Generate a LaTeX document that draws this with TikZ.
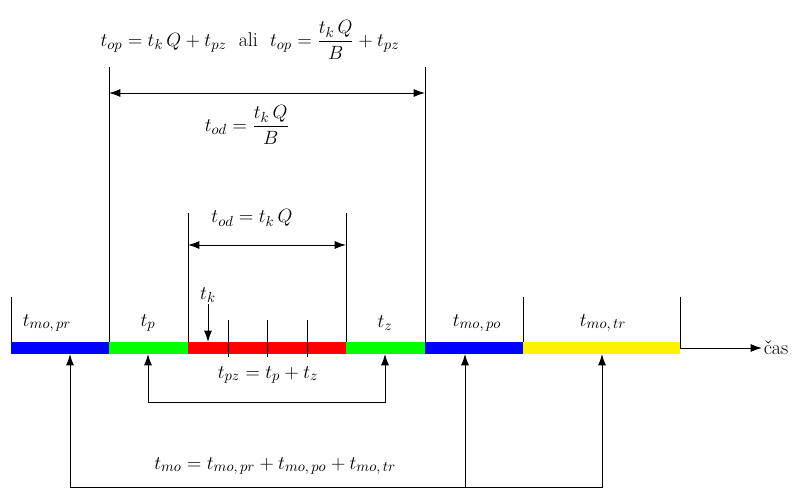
\documentclass[tikz,border=0pt]{standalone}
\usepackage{amsmath}
\usepackage{fontspec}
\usepackage{tikz}
\usetikzlibrary{positioning, arrows.meta}

\begin{document}
\begin{tikzpicture}[
    x=0.75pt, y=-0.75pt,
    >={Latex[length=8.5pt, width=6pt]},
    every path/.style={line width=0.7pt},
    segment/.style={line width=8.5pt},
    tlabel/.style={font=\fontsize{15}{18}\selectfont, inner sep=1pt}
]
\useasboundingbox (0,0) rectangle (793,491);
% time axis points and the vertical marks above them
\foreach \n/\x/\h in {0/11/297, 1/109/67, 2/188/213, 3/346/213, 4/425/67, 5/523/297, 6/680/297} {
    \coordinate (a\n) at (\x,348);
    \coordinate (h\n) at (\x,\h);
    \draw (h\n) -- (a\n);
}
\draw[segment, blue]   (a0) -- (a1);
\draw[segment, green]  (a1) -- (a2);
\draw[segment, red]    (a2) -- (a3);
\draw[segment, green]  (a3) -- (a4);
\draw[segment, blue]   (a4) -- (a5);
\draw[segment, yellow] (a5) -- (a6);
\foreach \x in {228,267,307} \draw (\x,320) -- (\x,357);

\node[tlabel, anchor=west] (cas) at (762,348) {čas};
\draw[->] (a6) -- (cas.west);

\node[tlabel] (top) at (250,40) {$t_{op} = t_k\,Q + t_{pz}$\ \ ali\ \ $t_{op} = \dfrac{t_k\,Q}{B} + t_{pz}$};
\coordinate (d1) at (109,93);
\coordinate (d2) at (425,93);
\draw[<->] (d1) -- (d2);
\node[tlabel] (tod1) at (247,125) {$t_{od} = \dfrac{t_k\,Q}{B}$};

\node[tlabel] (tod2) at (252,218) {$t_{od} = t_k\,Q$};
\coordinate (e1) at (188,245);
\coordinate (e2) at (346,245);
\draw[<->] (e1) -- (e2);

\node[tlabel] (tk) at (208,295) {$t_k$};
\coordinate (k) at (208,342);
\draw[->] (tk) -- (k);

\node[tlabel] (mopr) at (47,323) {$t_{mo,\,pr}$};
\node[tlabel] (tp) at (148,323) {$t_p$};
\node[tlabel] (tz) at (385,323) {$t_z$};
\node[tlabel] (mopo) at (477,323) {$t_{mo,\,po}$};
\node[tlabel] (motr) at (603,323) {$t_{mo,\,tr}$};

% brackets below the axis
\coordinate (p1) at (148,354);
\coordinate (p2) at (385,354);
\coordinate (q1) at (148,402);
\coordinate (q2) at (385,402);
\draw[<->] (p1) -- (q1) -- (q2) -- (p2);
\node[tlabel] (tpz) at (268,375) {$t_{pz} = t_p + t_z$};

\coordinate (m1) at (70,354);
\coordinate (m2) at (465,354);
\coordinate (m3) at (602,354);
\coordinate (n1) at (70,487);
\coordinate (n2) at (465,487);
\coordinate (n3) at (602,487);
\draw[<->] (m1) -- (n1) -- (n3) -- (m3);
\draw[->] (n2) -- (m2);
\node[tlabel] (tmo) at (275,466) {$t_{mo} = t_{mo,\,pr} + t_{mo,\,po} + t_{mo,\,tr}$};
\end{tikzpicture}
\end{document}
